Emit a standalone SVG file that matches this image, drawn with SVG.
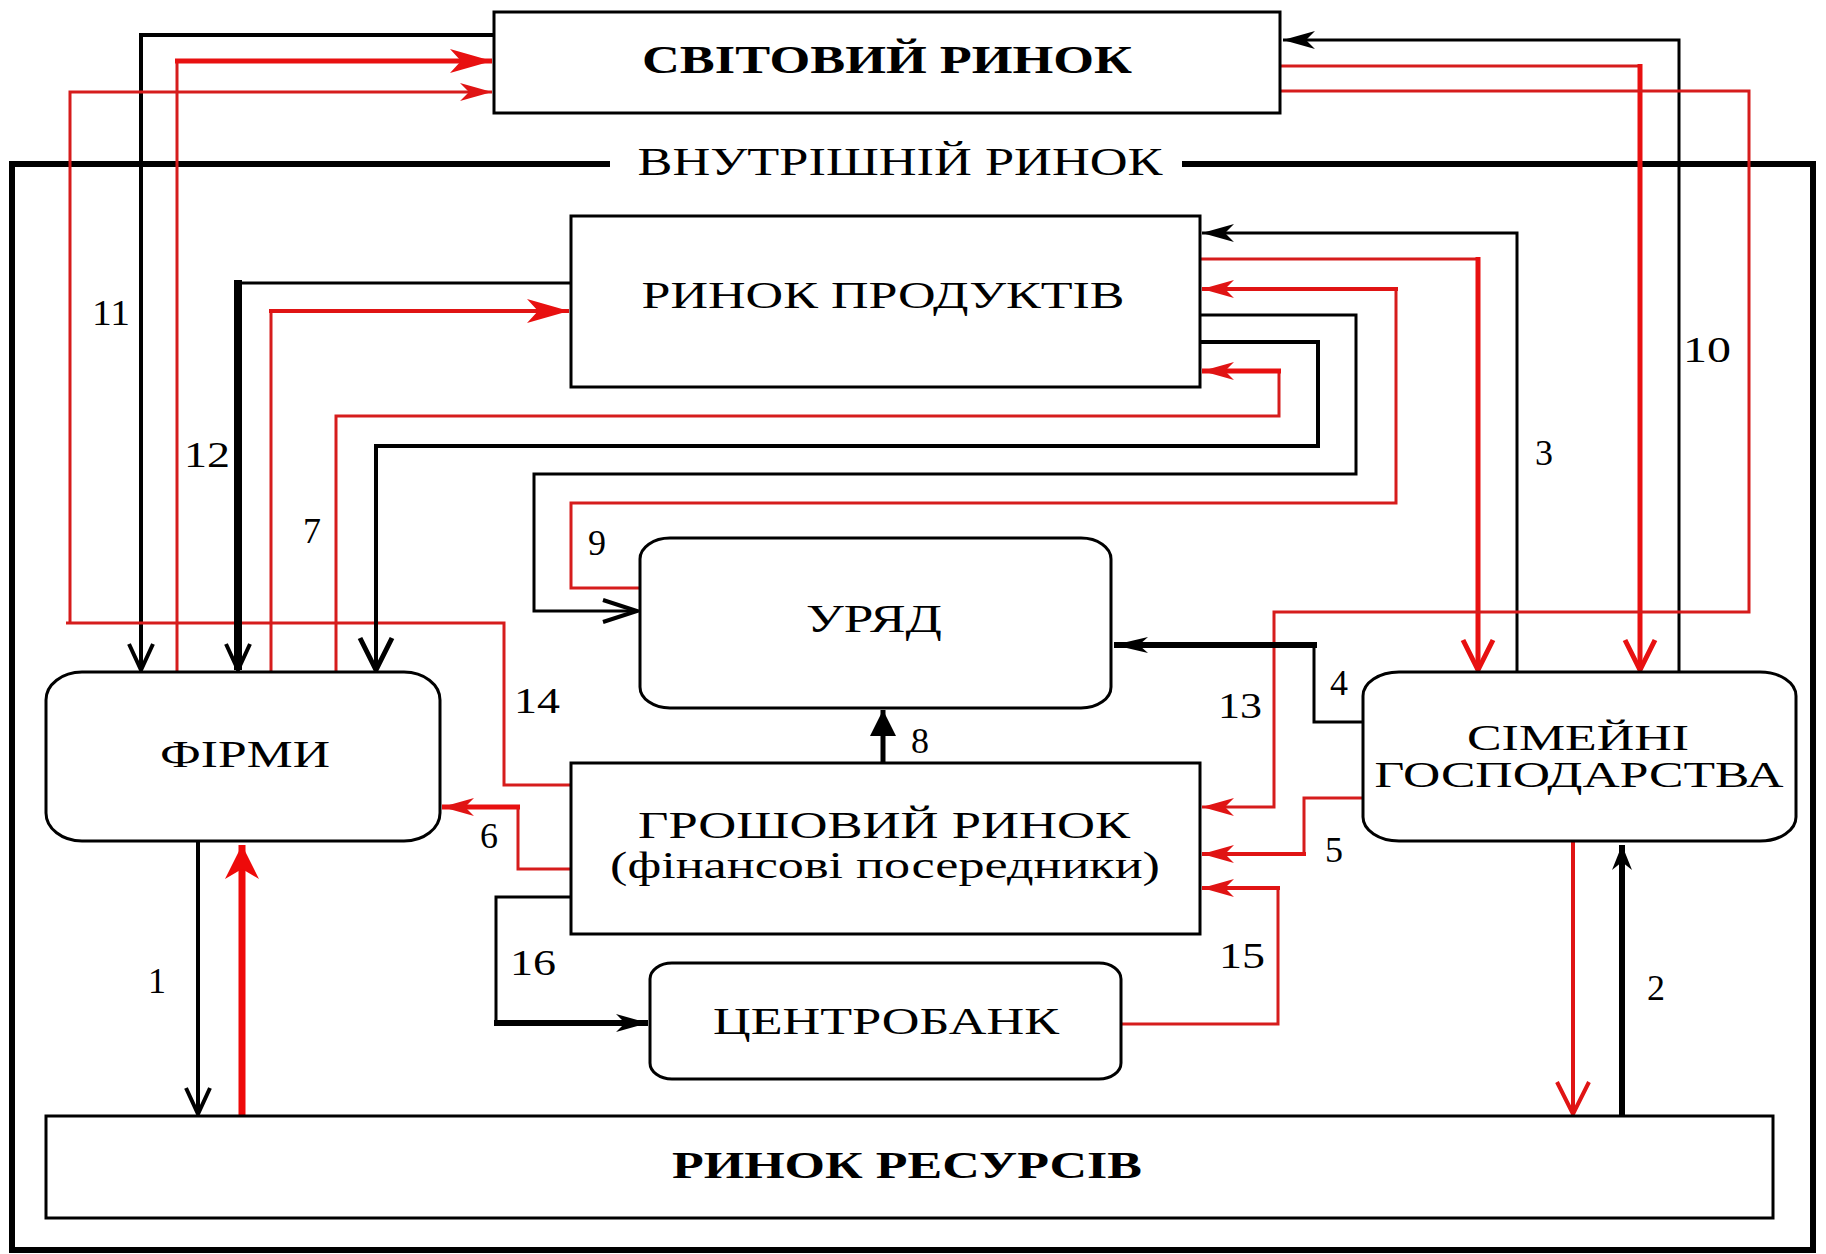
<svg xmlns="http://www.w3.org/2000/svg" width="1826" height="1254" viewBox="0 0 1826 1254">
<style>
.box{fill:#fff;stroke:#000;stroke-width:3}
.t{font-family:"Liberation Serif","Times New Roman",serif;fill:#000;text-anchor:middle}
.b{font-weight:bold}
.lbl{font-family:"Liberation Serif","Times New Roman",serif;font-size:36px;fill:#000;text-anchor:middle}
.k3{fill:none;stroke:#000;stroke-width:3}
.k4{fill:none;stroke:#000;stroke-width:4}
.k5{fill:none;stroke:#000;stroke-width:5}
.k6{fill:none;stroke:#000;stroke-width:6}
.k8{fill:none;stroke:#000;stroke-width:8}
.r3{fill:none;stroke:#d61c1c;stroke-width:3}
.r4{fill:none;stroke:#e01414;stroke-width:4}
.r5{fill:none;stroke:#e81010;stroke-width:5}
.r7{fill:none;stroke:#ee0a0a;stroke-width:7}
.frame{fill:none;stroke:#000;stroke-width:6}
</style>
<defs>
<marker id="rb" markerUnits="userSpaceOnUse" orient="auto" overflow="visible" markerWidth="50" markerHeight="50" refX="0" refY="0"><path d="M0,0 L-42,-12 L-31,0 L-42,12 Z" fill="#e81010"/></marker>
<marker id="rb2" markerUnits="userSpaceOnUse" orient="auto" overflow="visible" markerWidth="50" markerHeight="50" refX="0" refY="0"><path d="M0,0 L-34,-17 L-24,0 L-34,17 Z" fill="#ee0a0a"/></marker>
<marker id="rm" markerUnits="userSpaceOnUse" orient="auto" overflow="visible" markerWidth="50" markerHeight="50" refX="0" refY="0"><path d="M0,0 L-32,-9 L-23,0 L-32,9 Z" fill="#e01414"/></marker>
<marker id="rv" markerUnits="userSpaceOnUse" orient="auto" overflow="visible" markerWidth="50" markerHeight="50" refX="0" refY="0"><path d="M-30,-15 L0,0 L-30,15" fill="none" stroke="#e81010" stroke-width="5"/></marker>
<marker id="rv2" markerUnits="userSpaceOnUse" orient="auto" overflow="visible" markerWidth="50" markerHeight="50" refX="0" refY="0"><path d="M-32,-16 L0,0 L-32,16" fill="none" stroke="#e01414" stroke-width="4"/></marker>
<marker id="kb" markerUnits="userSpaceOnUse" orient="auto" overflow="visible" markerWidth="50" markerHeight="50" refX="0" refY="0"><path d="M0,0 L-32,-9 L-23,0 L-32,9 Z" fill="#000"/></marker>
<marker id="kb2" markerUnits="userSpaceOnUse" orient="auto" overflow="visible" markerWidth="50" markerHeight="50" refX="0" refY="0"><path d="M0,0 L-34,-8 L-25,0 L-34,8 Z" fill="#000"/></marker>
<marker id="ks" markerUnits="userSpaceOnUse" orient="auto" overflow="visible" markerWidth="50" markerHeight="50" refX="0" refY="0"><path d="M0,0 L-25,-10 L-17,0 L-25,10 Z" fill="#000"/></marker>
<marker id="kv" markerUnits="userSpaceOnUse" orient="auto" overflow="visible" markerWidth="50" markerHeight="50" refX="0" refY="0"><path d="M-26,-12 L0,0 L-26,12" fill="none" stroke="#000" stroke-width="4"/></marker>
<marker id="kv2" markerUnits="userSpaceOnUse" orient="auto" overflow="visible" markerWidth="50" markerHeight="50" refX="0" refY="0"><path d="M-32,-16 L0,0 L-32,16" fill="none" stroke="#000" stroke-width="5"/></marker>
<marker id="kc" markerUnits="userSpaceOnUse" orient="auto" overflow="visible" markerWidth="50" markerHeight="50" refX="0" refY="0"><path d="M-34,-11 L0,0 L-34,11" fill="none" stroke="#000" stroke-width="4"/></marker>
<marker id="kt" markerUnits="userSpaceOnUse" orient="auto" overflow="visible" markerWidth="50" markerHeight="50" refX="0" refY="0"><path d="M0,0 L-26,-13 L-26,13 Z" fill="#000"/></marker>
</defs>
<rect x="0" y="0" width="1826" height="1254" fill="#fff"/>

<g id="domestic-frame">
<path class="frame" d="M610,164 H12 V1250 H1813 V164 H1182"/>
<text class="t" x="900" y="175" font-size="40" textLength="525" lengthAdjust="spacingAndGlyphs">ВНУТРІШНІЙ РИНОК</text>
</g>

<g id="connectors">
<!-- 11 -->
<path class="k4" d="M494,35 H141 V670" marker-end="url(#kv)"/>
<!-- 12 red -->
<path class="r3" d="M177,672 V61"/>
<path class="r5" d="M175,61 H492" marker-end="url(#rb)"/>
<!-- 14 -->
<path class="r3" d="M571,785 H504 V623 H66 M70,623 V92 H492" marker-end="url(#rm)"/>
<!-- 12 black -->
<path class="k3" d="M571,283 H234"/>
<path class="k8" d="M238,280 V670" marker-end="url(#kv)"/>
<!-- 7 -->
<path class="r3" d="M271,672 V311"/>
<path class="r4" d="M269,311 H569" marker-end="url(#rb)"/>
<!-- firms to product market loop -->
<path class="r3" d="M336,672 V416 H1279 V369"/>
<path class="r5" d="M1281,371 H1202" marker-end="url(#rm)"/>
<!-- product market to firms -->
<path class="k4" d="M1200,342 H1318 V446 H376 V670" marker-end="url(#kv2)"/>
<!-- product market to government -->
<path class="k3" d="M1200,315 H1356 V474 H534 V611 H637" marker-end="url(#kc)"/>
<!-- 9 -->
<path class="r3" d="M639,588 H571 V503 H1396 V289"/>
<path class="r4" d="M1398,289 H1202" marker-end="url(#rm)"/>
<!-- product market to households -->
<path class="r3" d="M1200,259 H1479"/>
<path class="r5" d="M1478,257 V670" marker-end="url(#rv)"/>
<!-- 3 -->
<path class="k3" d="M1517,672 V233 H1202" marker-end="url(#kb)"/>
<!-- 10 -->
<path class="k3" d="M1679,672 V40 H1283" marker-end="url(#kb)"/>
<!-- world to households -->
<path class="r3" d="M1281,66 H1641"/>
<path class="r5" d="M1640,64 V670" marker-end="url(#rv)"/>
<!-- 13 -->
<path class="r3" d="M1281,91 H1749 V612 H1274 V807 H1202" marker-end="url(#rm)"/>
<!-- 4 -->
<path class="k3" d="M1362,722 H1314 V645"/>
<path class="k6" d="M1317,645 H1114" marker-end="url(#kb2)"/>
<!-- 5 -->
<path class="r3" d="M1364,798 H1304 V854"/>
<path class="r4" d="M1306,854 H1202" marker-end="url(#rm)"/>
<!-- 15 -->
<path class="r3" d="M1121,1024 H1278 V888"/>
<path class="r4" d="M1280,888 H1202" marker-end="url(#rm)"/>
<!-- 16 -->
<path class="k3" d="M571,897 H496 V1023"/>
<path class="k6" d="M494,1023 H648" marker-end="url(#kb)"/>
<!-- 6 -->
<path class="r3" d="M571,869 H518 V807"/>
<path class="r5" d="M520,807 H442" marker-end="url(#rm)"/>
<!-- 8 -->
<path class="k5" d="M883,763 V710" marker-end="url(#kt)"/>
<!-- 1 -->
<path class="k4" d="M198,842 V1114" marker-end="url(#kv)"/>
<!-- resources to firms -->
<path class="r7" d="M242,1121 V845" marker-end="url(#rb2)"/>
<!-- 2 -->
<path class="k6" d="M1622,1116 V845" marker-end="url(#ks)"/>
<!-- households to resources -->
<path class="r4" d="M1573,842 V1114" marker-end="url(#rv2)"/>

<g id="labels">
<text class="lbl" x="111" y="325" textLength="38" lengthAdjust="spacingAndGlyphs">11</text>
<text class="lbl" x="207" y="467" textLength="46" lengthAdjust="spacingAndGlyphs">12</text>
<text class="lbl" x="312" y="543">7</text>
<text class="lbl" x="597" y="555">9</text>
<text class="lbl" x="537" y="713" textLength="46" lengthAdjust="spacingAndGlyphs">14</text>
<text class="lbl" x="489" y="848">6</text>
<text class="lbl" x="920" y="753">8</text>
<text class="lbl" x="1544" y="465">3</text>
<text class="lbl" x="1707" y="362" textLength="48" lengthAdjust="spacingAndGlyphs">10</text>
<text class="lbl" x="1339" y="695">4</text>
<text class="lbl" x="1240" y="718" textLength="44" lengthAdjust="spacingAndGlyphs">13</text>
<text class="lbl" x="1334" y="862">5</text>
<text class="lbl" x="1242" y="968" textLength="46" lengthAdjust="spacingAndGlyphs">15</text>
<text class="lbl" x="533" y="975" textLength="46" lengthAdjust="spacingAndGlyphs">16</text>
<text class="lbl" x="157" y="993">1</text>
<text class="lbl" x="1656" y="1000">2</text>
</g>
</g>

<g id="world-market">
<rect class="box" x="494" y="12" width="786" height="101"/>
<text class="t b" x="887" y="73" font-size="40" textLength="490" lengthAdjust="spacingAndGlyphs">СВІТОВИЙ РИНОК</text>
</g>

<g id="product-market">
<rect class="box" x="571" y="216" width="629" height="171"/>
<text class="t" x="883" y="308" font-size="38" textLength="483" lengthAdjust="spacingAndGlyphs">РИНОК ПРОДУКТІВ</text>
</g>

<g id="government">
<rect class="box" x="640" y="538" width="471" height="170" rx="30" ry="21"/>
<text class="t" x="874" y="632" font-size="40" textLength="136" lengthAdjust="spacingAndGlyphs">УРЯД</text>
</g>

<g id="firms">
<rect class="box" x="46" y="672" width="394" height="169" rx="36" ry="28"/>
<text class="t" x="245" y="767" font-size="37" textLength="170" lengthAdjust="spacingAndGlyphs">ФІРМИ</text>
</g>

<g id="households">
<rect class="box" x="1363" y="672" width="433" height="169" rx="36" ry="24"/>
<text class="t" x="1578" y="750" font-size="36" textLength="222" lengthAdjust="spacingAndGlyphs">СІМЕЙНІ</text>
<text class="t" x="1579" y="787" font-size="36" textLength="409" lengthAdjust="spacingAndGlyphs">ГОСПОДАРСТВА</text>
</g>

<g id="money-market">
<rect class="box" x="571" y="763" width="629" height="171"/>
<text class="t" x="884" y="838" font-size="38" textLength="492" lengthAdjust="spacingAndGlyphs">ГРОШОВИЙ РИНОК</text>
<text class="t" x="885" y="878" font-size="38" textLength="550" lengthAdjust="spacingAndGlyphs">(фінансові посередники)</text>
</g>

<g id="central-bank">
<rect class="box" x="650" y="963" width="471" height="116" rx="22" ry="16"/>
<text class="t" x="886" y="1034" font-size="37" textLength="346" lengthAdjust="spacingAndGlyphs">ЦЕНТРОБАНК</text>
</g>

<g id="resource-market">
<rect class="box" x="46" y="1116" width="1727" height="102"/>
<text class="t b" x="907" y="1178" font-size="38" textLength="470" lengthAdjust="spacingAndGlyphs">РИНОК РЕСУРСІВ</text>
</g>
</svg>
